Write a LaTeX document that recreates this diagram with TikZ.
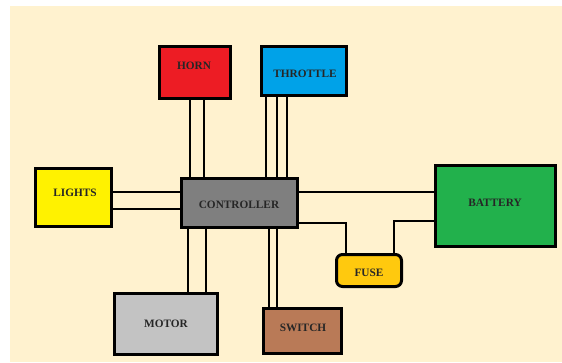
\documentclass[tikz,border=0pt]{standalone}
\usepackage{fontspec}
\setmainfont{Liberation Serif}
\definecolor{cream}{HTML}{FFF2CF}
\definecolor{hornred}{HTML}{ED1C24}
\definecolor{thrblue}{HTML}{00A2E8}
\definecolor{lightyel}{HTML}{FFF200}
\definecolor{ctrlgray}{HTML}{7F7F7F}
\definecolor{batgreen}{HTML}{22B14C}
\definecolor{fuseyel}{HTML}{FFC90E}
\definecolor{motgray}{HTML}{C3C3C3}
\definecolor{swbrown}{HTML}{B97A57}
\tikzset{
  box/.style={draw=black, line width=3pt, inner sep=0pt},
  lbl/.style={font=\bfseries\fontsize{11.3}{13}\selectfont, text=black!85, inner sep=0pt},
  wire/.style={draw=black, line width=2.5pt}
}
\begin{document}
\begin{tikzpicture}[x=1pt,y=-1pt]
\useasboundingbox (0,0) rectangle (562,362);
\fill[white] (0,0) rectangle (562,362);
\fill[cream] (10,6) rectangle (562,362);

\node[box, fill=hornred, minimum width=71pt, minimum height=52pt] (horn) at (195,72.5) {};
\node[box, fill=thrblue, minimum width=85pt, minimum height=49pt] (thr) at (304,71) {};
\node[box, fill=lightyel, minimum width=76pt, minimum height=58pt] (lights) at (73.5,197.5) {};
\node[box, fill=ctrlgray, minimum width=116pt, minimum height=49pt] (ctrl) at (239.5,202.5) {};
\node[box, fill=batgreen, minimum width=120pt, minimum height=81pt] (bat) at (495.5,205.5) {};
\node[box, fill=fuseyel, rounded corners=6pt, minimum width=65pt, minimum height=32pt] (fuse) at (369,270.5) {};
\node[box, fill=motgray, minimum width=103pt, minimum height=61pt] (motor) at (166,324) {};
\node[box, fill=swbrown, minimum width=78pt, minimum height=45pt] (sw) at (302.5,331) {};

\node[lbl] (hornl) at (194,66) {HORN};
\node[lbl] (thrl) at (305,74) {THROTTLE};
\node[lbl] (lightsl) at (75,193) {LIGHTS};
\node[lbl] (ctrll) at (239,205) {CONTROLLER};
\node[lbl] (batl) at (495,203) {BATTERY};
\node[lbl] (fusel) at (369,273) {FUSE};
\node[lbl] (motorl) at (166,324) {MOTOR};
\node[lbl] (swl) at (303,328) {SWITCH};

% horn
\draw[wire] (horn.south -| 190,0) -- (ctrl.north -| 190,0);
\draw[wire] (horn.south -| 204,0) -- (ctrl.north -| 204,0);
% throttle
\draw[wire] (thr.south -| 266,0) -- (ctrl.north -| 266,0);
\draw[wire] (thr.south -| 277,0) -- (ctrl.north -| 277,0);
\draw[wire] (thr.south -| 287,0) -- (ctrl.north -| 287,0);
% lights
\draw[wire] (lights.east |- 0,192) -- (ctrl.west |- 0,192);
\draw[wire] (lights.east |- 0,209) -- (ctrl.west |- 0,209);
% battery
\draw[wire] (ctrl.east |- 0,192) -- (bat.west |- 0,192);
% fuse
\draw[wire] (ctrl.east |- 0,223) -| (fuse.north -| 346,0);
\draw[wire] (fuse.north -| 394,0) |- (bat.west |- 0,221);
% motor
\draw[wire] (ctrl.south -| 188,0) -- (motor.north -| 188,0);
\draw[wire] (ctrl.south -| 206,0) -- (motor.north -| 206,0);
% switch
\draw[wire] (ctrl.south -| 269,0) -- (sw.north -| 269,0);
\draw[wire] (ctrl.south -| 277,0) -- (sw.north -| 277,0);
\end{tikzpicture}
\end{document}
